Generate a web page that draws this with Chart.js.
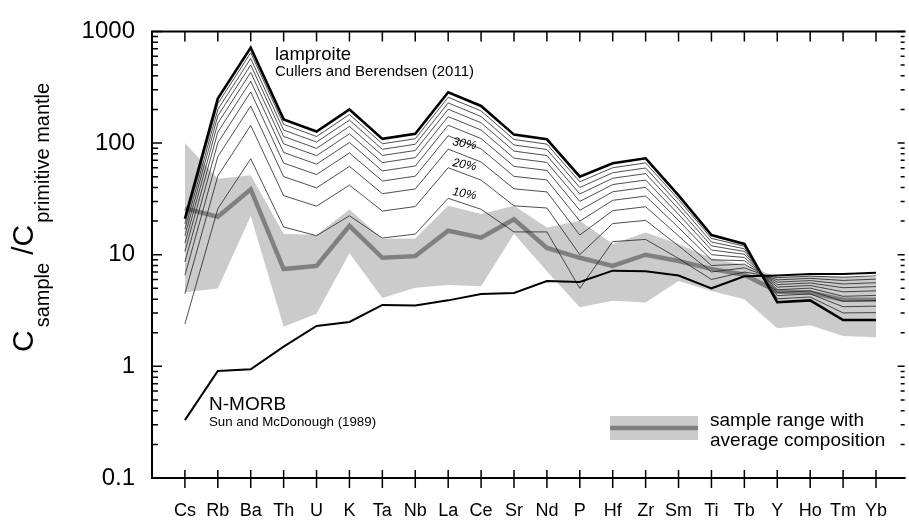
<!DOCTYPE html>
<html>
<head>
<meta charset="utf-8">
<script src="https://cdn.jsdelivr.net/npm/chart.js@4/dist/chart.umd.min.js"></script>
<style>
html,body{margin:0;padding:0;background:#fff;}
</style>
</head>
<body>
<canvas id="spider" width="909" height="520"></canvas>
<script>
const elements = ['Cs','Rb','Ba','Th','U','K','Ta','Nb','La','Ce','Sr','Nd','P','Hf','Zr','Sm','Ti','Tb','Y','Ho','Tm','Yb'];
const yTicks = [0.1, 1, 10, 100, 1000];

// end members
const lamproite = [21, 250, 715, 163, 127, 200, 109, 121, 285, 215, 119, 108, 50, 66, 73, 34, 15, 12.5, 3.75, 3.9, 2.6, 2.6];
const nMorb = [0.33, 0.91, 0.94, 1.5, 2.3, 2.5, 3.55, 3.5, 3.9, 4.45, 4.55, 5.8, 5.7, 7.2, 7.1, 6.5, 5.0, 6.4, 6.5, 6.7, 6.7, 6.9];

// mixing lines, 10% .. 90% lamproite
const mix10 = [2.4, 25.8, 72.3, 17.7, 14.8, 22.3, 14.1, 15.3, 32.0, 25.5, 16.0, 16.0, 5.0, 13.1, 13.7, 9.25, 6.0, 7.0, 6.23, 6.42, 6.29, 6.47];
const mix20 = [4.46, 50.7, 143.8, 33.8, 27.2, 42.0, 24.6, 27.0, 60.1, 46.6, 27.4, 26.2, 10.0, 19.0, 20.3, 12.0, 7.0, 7.62, 5.95, 6.14, 5.88, 6.04];
const mix30 = [6.53, 75.6, 215, 50.0, 39.7, 61.8, 35.2, 38.8, 88.2, 67.6, 38.9, 36.5, 15.0, 24.8, 26.9, 14.75, 8.0, 8.23, 5.68, 5.86, 5.47, 5.61];
const mix40 = [8.6, 100.5, 287, 66.1, 52.2, 81.5, 45.7, 50.5, 116.3, 88.7, 50.3, 46.7, 20.0, 30.7, 33.5, 17.5, 9.0, 8.84, 5.4, 5.58, 5.06, 5.18];
const mix50 = [10.7, 125.5, 358, 82.3, 64.7, 101.3, 56.3, 62.3, 144.5, 109.7, 61.8, 56.9, 25.0, 36.6, 40.1, 20.25, 10.0, 9.45, 5.13, 5.3, 4.65, 4.75];
const mix60 = [12.7, 150.4, 429, 98.4, 77.1, 121, 66.8, 74.0, 172.6, 130.8, 73.2, 67.1, 30.0, 42.5, 46.6, 23.0, 11.0, 10.1, 4.85, 5.02, 4.24, 4.32];
const mix70 = [14.8, 175.3, 501, 114.6, 89.6, 140.8, 77.4, 85.8, 200.7, 151.8, 84.7, 77.3, 35.0, 48.4, 53.2, 25.75, 12.0, 10.7, 4.58, 4.74, 3.83, 3.89];
const mix80 = [16.9, 200.2, 572, 130.7, 102.1, 160.5, 87.9, 97.5, 228.8, 172.9, 96.1, 87.6, 40.0, 54.2, 59.8, 28.5, 13.0, 11.3, 4.3, 4.46, 3.42, 3.46];
const mix90 = [18.9, 225.1, 644, 146.9, 114.5, 180.3, 98.5, 109.3, 256.9, 194.0, 107.6, 97.8, 45.0, 60.1, 66.4, 31.25, 14.0, 11.9, 4.03, 4.18, 3.01, 3.03];

// samples
const rangeUpper = [100, 48, 51.5, 15.4, 15.0, 25.4, 13.9, 14, 27.5, 23.1, 27.5, 17.5, 20.1, 12.5, 15.8, 12.5, 9.3, 8.1, 6.3, 6.5, 6.3, 6.3];
const rangeLower = [4.6, 4.97, 22.2, 2.26, 2.96, 10.3, 4.1, 5.07, 5.34, 5.23, 15.4, 7.1, 3.38, 3.87, 3.74, 5.8, 4.73, 4.0, 2.19, 2.34, 1.87, 1.82];
const average = [26, 21.9, 38.5, 7.43, 7.94, 18.1, 9.38, 9.71, 16.4, 14.2, 20.8, 11.5, 9.38, 7.94, 10, 8.78, 7.47, 6.62, 4.67, 4.58, 3.95, 3.95];

const FONT = '"Liberation Sans", Arial, Helvetica, sans-serif';
const pts = arr => arr.map((v, i) => ({x: i, y: v}));

const mixes = [mix90, mix80, mix70, mix60, mix50, mix40, mix30, mix20, mix10];

const datasets = [
  {label: 'lamproite', data: pts(lamproite), borderColor: '#000', borderWidth: 2.6},
  {label: 'N-MORB', data: pts(nMorb), borderColor: '#000', borderWidth: 2}
];
mixes.forEach((m, k) => {
  datasets.push({label: 'mix' + (90 - k * 10), data: pts(m), borderColor: '#222', borderWidth: 0.8});
});
datasets.push({label: 'average', data: pts(average), borderColor: '#808080', borderWidth: 4.5});
datasets.push({label: 'range', data: pts(rangeUpper), borderWidth: 0, borderColor: 'rgba(0,0,0,0)',
  backgroundColor: '#cbcbcb', fill: '+1'});
datasets.push({label: 'rangeLow', data: pts(rangeLower), borderWidth: 0, borderColor: 'rgba(0,0,0,0)', fill: false});

const decor = {
  id: 'decor',
  afterDraw(chart) {
    const {ctx, chartArea: a, scales: {x, y}} = chart;
    ctx.save();
    ctx.strokeStyle = '#000';
    ctx.lineWidth = 2;
    ctx.beginPath();
    ctx.moveTo(a.right + 2, a.top);
    ctx.lineTo(a.left, a.top);
    ctx.lineTo(a.left, a.bottom);
    ctx.lineTo(a.right + 2, a.bottom);
    ctx.stroke();

    // log ticks left / right
    ctx.lineWidth = 1.5;
    ctx.beginPath();
    yTicks.forEach((d, k) => {
      const py = y.getPixelForValue(d);
      ctx.moveTo(a.left, py); ctx.lineTo(a.left + 10, py);
      ctx.moveTo(a.right + 1, py); ctx.lineTo(a.right - 6, py);
      if (k < yTicks.length - 1) {
        for (let m = 2; m <= 9; m++) {
          const my = y.getPixelForValue(d * m);
          ctx.moveTo(a.left, my); ctx.lineTo(a.left + 6, my);
          ctx.moveTo(a.right + 1, my); ctx.lineTo(a.right - 3, my);
        }
      }
    });
    // category ticks top / bottom
    elements.forEach((e, i) => {
      const px = x.getPixelForValue(i);
      ctx.moveTo(px, a.top); ctx.lineTo(px, a.top + 10);
      ctx.moveTo(px, a.bottom - 8); ctx.lineTo(px, a.bottom + 10);
    });
    ctx.stroke();

    // y axis title
    ctx.fillStyle = '#000';
    ctx.save();
    ctx.translate(33, 352);
    ctx.rotate(-Math.PI / 2);
    ctx.textBaseline = 'alphabetic';
    let cx = 0;
    ctx.font = '30px ' + FONT;
    ctx.fillText('C', cx, 0); cx += ctx.measureText('C').width + 3;
    ctx.font = '20px ' + FONT;
    ctx.fillText('sample', cx, 16); cx += ctx.measureText('sample').width + 8;
    ctx.font = '30px ' + FONT;
    ctx.fillText('/C', cx, 0); cx += ctx.measureText('/C').width + 2;
    ctx.font = '20px ' + FONT;
    ctx.fillText('primitive mantle', cx, 16);
    ctx.restore();

    // annotations
    ctx.font = '18.5px ' + FONT;
    ctx.fillText('lamproite', 275, 60);
    ctx.font = '15px ' + FONT;
    ctx.fillText('Cullers and Berendsen (2011)', 275, 76);
    ctx.font = '19px ' + FONT;
    ctx.fillText('N-MORB', 209, 410);
    ctx.font = '13.3px ' + FONT;
    ctx.fillText('Sun and McDonough (1989)', 209, 426);

    ctx.font = 'italic 12px ' + FONT;
    [['30%', 145], ['20%', 166], ['10%', 195]].forEach(([t, py]) => {
      ctx.save();
      ctx.translate(452, py);
      ctx.rotate(0.18);
      ctx.fillText(t, 0, 0);
      ctx.restore();
    });

    // legend
    ctx.fillStyle = '#cbcbcb';
    ctx.fillRect(610, 416, 88, 24);
    ctx.strokeStyle = '#808080';
    ctx.lineWidth = 4.5;
    ctx.beginPath();
    ctx.moveTo(610, 428); ctx.lineTo(698, 428);
    ctx.stroke();
    ctx.fillStyle = '#000';
    ctx.font = '19px ' + FONT;
    ctx.fillText('sample range with', 710, 426);
    ctx.fillText('average composition', 710, 446);
    ctx.restore();
  }
};

new Chart(document.getElementById('spider'), {
  type: 'line',
  data: {datasets},
  options: {
    responsive: false,
    animation: false,
    layout: {padding: {top: 21, right: 0, left: 0, bottom: 0}},
    plugins: {legend: {display: false}, tooltip: {enabled: false}},
    elements: {point: {radius: 0}, line: {tension: 0}},
    scales: {
      x: {
        type: 'linear', min: -1, max: 21.84,
        grid: {display: false, drawTicks: false},
        border: {display: false},
        afterBuildTicks: s => { s.ticks = elements.map((e, i) => ({value: i})); },
        ticks: {autoSkip: false, maxRotation: 0, padding: 22, color: '#000',
          font: {size: 18, family: FONT}, callback: v => elements[v]},
        afterFit: s => { s.height = 42; }
      },
      y: {
        type: 'logarithmic', min: 0.1, max: 1000,
        grid: {display: false, drawTicks: false},
        border: {display: false},
        afterBuildTicks: s => { s.ticks = yTicks.map(v => ({value: v})); },
        ticks: {padding: 17, color: '#000', font: {size: 24, family: FONT},
          callback: v => String(v)},
        afterFit: s => { s.width = 152; }
      }
    }
  },
  plugins: [decor]
});
</script>
</body>
</html>
